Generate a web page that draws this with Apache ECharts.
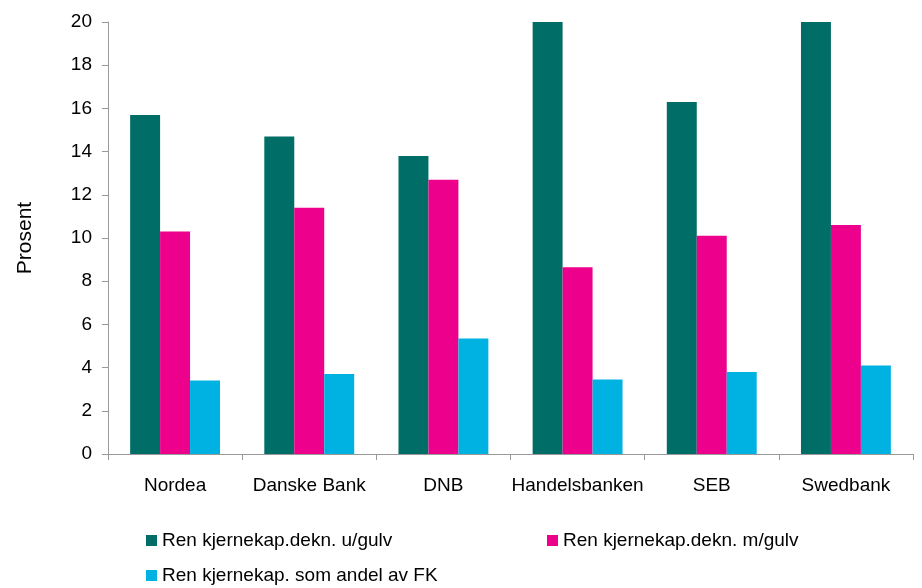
<!DOCTYPE html>
<html>
<head>
<meta charset="utf-8">
<script src="https://cdn.jsdelivr.net/npm/echarts@6/dist/echarts.min.js"></script>
<style>
  html, body { margin: 0; padding: 0; background: #fff; }
  #chart { width: 922px; height: 588px; }
</style>
</head>
<body>
<div id="chart"></div>
<script>
// banks on the x axis
const banks = ["Nordea", "Danske Bank", "DNB", "Handelsbanken", "SEB", "Swedbank"];

// series names
const nameUtenGulv = "Ren kjernekap.dekn. u/gulv";
const nameMedGulv = "Ren kjernekap.dekn. m/gulv";
const nameAndelFK = "Ren kjernekap. som andel av FK";

// values in percent (Handelsbanken and Swedbank go off the top of the axis)
const utenGulv = [15.7, 14.7, 13.8, 20, 16.3, 20];
const medGulv = [10.3, 11.4, 12.7, 8.65, 10.1, 10.6];
const andelFK = [3.4, 3.7, 5.35, 3.45, 3.8, 4.1];

const yTicks = { min: 0, max: 20, interval: 2 };

const colors = ["#006E66", "#EC008C", "#00B2E2"];
const font = "'Liberation Sans', Arial, sans-serif";

const chart = echarts.init(document.getElementById("chart"));

const legendText = { fontFamily: font, fontSize: 19, color: "#000" };
function legendAt(name, left, top) {
  return {
    data: [name],
    left: left,
    top: top,
    itemWidth: 11,
    itemHeight: 11,
    itemGap: 4,
    icon: "rect",
    padding: 0,
    textStyle: legendText
  };
}

chart.setOption({
  animation: false,
  color: colors,
  legend: [
    legendAt(nameUtenGulv, 146, 531),
    legendAt(nameMedGulv, 547, 531),
    legendAt(nameAndelFK, 146, 566)
  ],
  grid: { left: 108, right: 9, top: 22, bottom: 134, containLabel: false },
  xAxis: {
    type: "category",
    data: banks,
    axisLine: { lineStyle: { color: "#999", width: 1 } },
    axisTick: { show: true, interval: 0, length: 6, lineStyle: { color: "#999" } },
    axisLabel: { interval: 0, fontFamily: font, fontSize: 19, color: "#000", margin: 22 }
  },
  yAxis: {
    type: "value",
    min: yTicks.min,
    max: yTicks.max,
    interval: yTicks.interval,
    name: "Prosent",
    nameLocation: "middle",
    nameGap: 72,
    nameRotate: 90,
    nameTextStyle: { fontFamily: font, fontSize: 21, color: "#000" },
    axisLine: { show: true, lineStyle: { color: "#999", width: 1 } },
    axisTick: { show: true, length: 6, lineStyle: { color: "#999" } },
    axisLabel: { fontFamily: font, fontSize: 19, color: "#000", margin: 16 },
    splitLine: { show: false }
  },
  series: [
    { name: nameUtenGulv, type: "bar", data: utenGulv, barGap: "0%", barCategoryGap: "33%" },
    { name: nameMedGulv, type: "bar", data: medGulv, barGap: "0%", barCategoryGap: "33%" },
    { name: nameAndelFK, type: "bar", data: andelFK, barGap: "0%", barCategoryGap: "33%" }
  ]
});

window.onresize = () => chart.resize();
</script>
</body>
</html>
